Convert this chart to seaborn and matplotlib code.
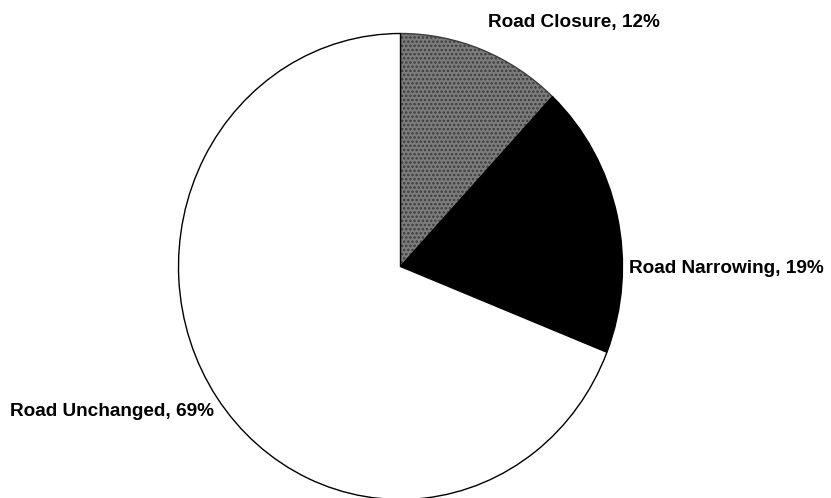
import matplotlib
matplotlib.use("Agg")
import matplotlib.pyplot as plt
import seaborn as sns

# dados do grafico
categorias = ["Road Closure", "Road Narrowing", "Road Unchanged"]
percentuais = [12, 19, 69]
cores = ["#7c7c7c", "#000000", "#ffffff"]

sns.set_theme(style="white")
plt.rcParams['font.family'] = ['Liberation Sans', 'DejaVu Sans']
plt.rcParams['hatch.linewidth'] = 1.2

fig = plt.figure(figsize=(8.31, 4.98), dpi=100)
# pizza levemente eliptica como no original
ax = fig.add_axes([178.5 / 831, -1.5 / 498, 444 / 831, 466 / 498])

wedges, _ = ax.pie(percentuais, colors=cores, startangle=90, counterclock=False,
                   radius=1, wedgeprops=dict(edgecolor="black", linewidth=1.0))
ax.set_xlim(-1, 1)
ax.set_ylim(-1, 1)
ax.set_aspect("auto")
ax.axis("off")

# textura cinza
wedges[0].set_hatch("....")
wedges[0].set_edgecolor("#3c3c3c")

rotulos = [f"{c}, {p}%" for c, p in zip(categorias, percentuais)]
posicoes = [(488, 22), (629, 268), (10, 412)]
for txt, (x, y) in zip(rotulos, posicoes):
    fig.text(x / 831, 1 - y / 498, txt, ha="left", va="center",
             fontsize=13.7, fontweight="bold", color="black")

plt.savefig("out.png", dpi=100)
